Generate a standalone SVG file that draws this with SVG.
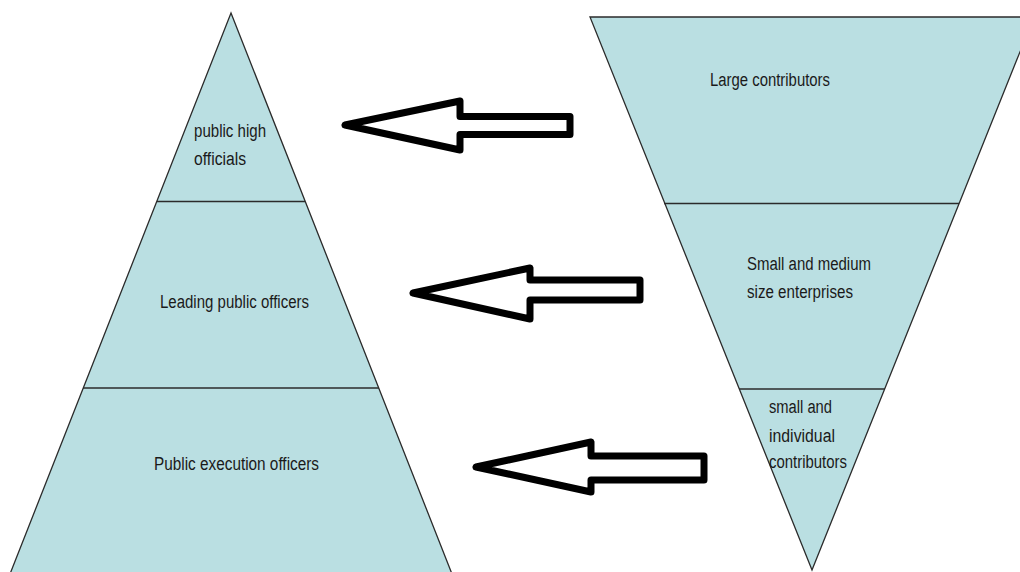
<svg xmlns="http://www.w3.org/2000/svg" width="1020" height="572" viewBox="0 0 1020 572">
<style>
.tri{fill:#badfe2;stroke:#2b2b2b;stroke-width:1.3}
.div{stroke:#2b2b2b;stroke-width:1.6}
.lbl{font-family:"Liberation Sans",Arial,sans-serif;font-size:18px;fill:#1a1a1a}
.arr{fill:#ffffff;stroke:#000000;stroke-width:7;stroke-linejoin:round}
</style>
<rect width="1020" height="572" fill="#ffffff"/>
<g id="pyramid">
<polygon class="tri" points="231,13 452,574 10,574"/>
<line class="div" x1="157" y1="201.5" x2="305" y2="201.5"/>
<line class="div" x1="83" y1="388" x2="379" y2="388"/>
</g>
<g id="public-high-officials">
<text class="lbl" x="194" y="137" textLength="72" lengthAdjust="spacingAndGlyphs">public high</text>
<text class="lbl" x="194" y="165" textLength="52" lengthAdjust="spacingAndGlyphs">officials</text>
</g>
<g id="leading-public-officers">
<text class="lbl" x="160" y="308" textLength="149" lengthAdjust="spacingAndGlyphs">Leading public officers</text>
</g>
<g id="public-execution-officers">
<text class="lbl" x="154" y="470" textLength="165" lengthAdjust="spacingAndGlyphs">Public execution officers</text>
</g>
<g id="funnel">
<polygon class="tri" points="590,17 1034,17 812,570"/>
<line class="div" x1="664" y1="203.5" x2="959" y2="203.5"/>
<line class="div" x1="739" y1="389" x2="885" y2="389"/>
</g>
<g id="large-contributors">
<text class="lbl" x="710" y="86" textLength="120" lengthAdjust="spacingAndGlyphs">Large contributors</text>
</g>
<g id="small-medium-enterprises">
<text class="lbl" x="747" y="270" textLength="124" lengthAdjust="spacingAndGlyphs">Small and medium</text>
<text class="lbl" x="747" y="298" textLength="106" lengthAdjust="spacingAndGlyphs">size enterprises</text>
</g>
<g id="small-individual-contributors">
<text class="lbl" x="769" y="413" textLength="63" lengthAdjust="spacingAndGlyphs">small and</text>
<text class="lbl" x="769" y="442" textLength="66" lengthAdjust="spacingAndGlyphs">individual</text>
<text class="lbl" x="769" y="468" textLength="78" lengthAdjust="spacingAndGlyphs">contributors</text>
</g>
<g id="connectors">
<polygon class="arr" points="345,125 460,101 460,116.5 570,116.5 570,134.5 460,134.5 460,150"/>
<polygon class="arr" points="413,293 530,268 530,280 640,280 640,300 530,300 530,319"/>
<polygon class="arr" points="476,467 591,442 591,456 704,456 704,480 591,480 591,492"/>
</g>
</svg>
